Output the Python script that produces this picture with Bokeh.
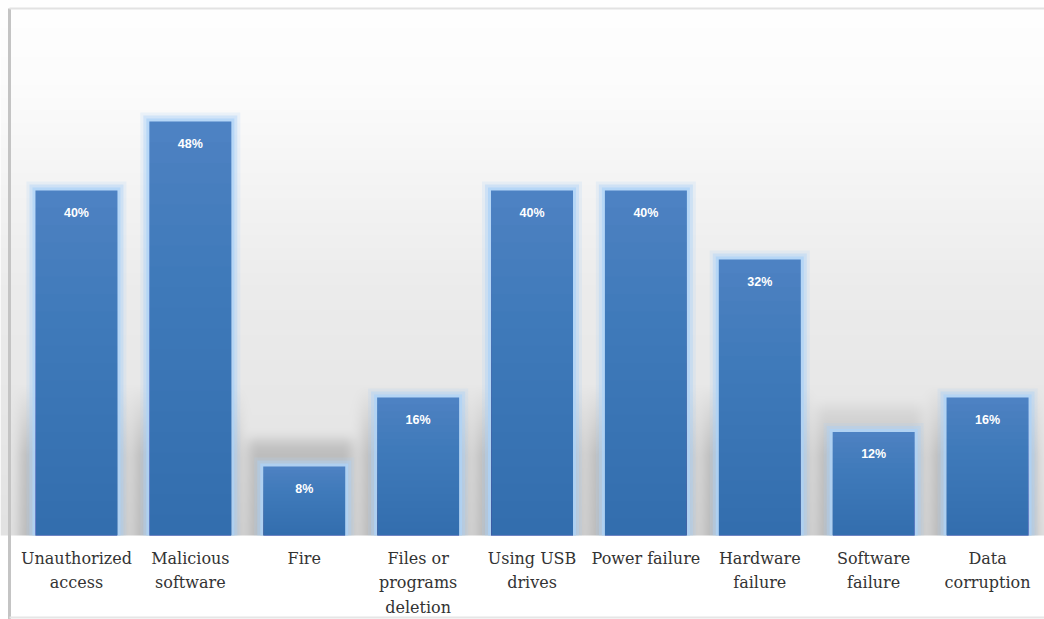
import numpy as np
from bokeh.plotting import figure
from bokeh.models import Range1d, ColumnDataSource
from bokeh.core.properties import value
from bokeh.embed import file_html
from bokeh.resources import INLINE

# ---- data ----
categories = ["Unauthorized\naccess", "Malicious\nsoftware", "Fire",
              "Files or\nprograms\ndeletion", "Using USB\ndrives", "Power failure",
              "Hardware\nfailure", "Software\nfailure", "Data\ncorruption"]
percent = [40, 48, 8, 16, 40, 40, 32, 12, 16]
value_labels = ["40%", "48%", "8%", "16%", "40%", "40%", "32%", "12%", "16%"]

W, H = 1044, 619
n = len(categories)
xleft = -0.667
xright = n - 0.5
xpx = W / (xright - xleft)          # px per category
ypx = 8.625                         # px per percent
y0_px = 535
ytop = y0_px / ypx
ybot = -(H - y0_px) / ypx

def X(px):
    return xleft + px / xpx

def Y(py):
    return ytop - py / ypx

p = figure(width=W, height=H, output_backend="svg", toolbar_location=None,
           x_range=Range1d(xleft, xright), y_range=Range1d(ybot, ytop),
           min_border=0, min_border_left=0, min_border_right=0,
           min_border_top=0, min_border_bottom=0)
p.axis.visible = False
p.grid.visible = False
p.outline_line_color = None
p.background_fill_color = "white"
p.border_fill_color = "white"

xs = np.arange(n)
vals = np.array(percent, dtype=float)
bw = 0.72

# ---- back wall with soft shadows (raster built from the data) ----
cols, rows = W, y0_px
hh = np.arange(rows) + 0.5            # px above floor
cc = np.arange(cols) + 0.5            # screen px
wall = np.interp(hh, [0, 60, 150, 250, 350, 450, 535],
                 [226, 229, 232, 236, 244, 252, 255])
mask = np.zeros((rows, cols))
for x, v in zip(xs, vals):
    cpx = (x - xleft) * xpx
    hw = bw * xpx / 2
    l, r = cpx - hw - 16, cpx + hw + 8
    top = v * ypx + 28
    mcol = (cc >= l) & (cc <= r)
    mrow = hh <= top
    mask[np.ix_(mrow, mcol)] = 1.0

def blur(a, rad, axis):
    k = 2 * rad + 1
    pad = [(0, 0), (0, 0)]
    pad[axis] = (rad + 1, rad)
    ap = np.pad(a, pad, mode="edge")
    cs = np.cumsum(ap, axis=axis)
    if axis == 0:
        return (cs[k:] - cs[:-k]) / k
    return (cs[:, k:] - cs[:, :-k]) / k

for _ in range(2):
    mask = blur(mask, 6, 0)
    mask = blur(mask, 6, 1)
fade = np.clip((150 - hh) / 70.0, 0, 1)
shade = wall[:, None] - 40 * mask * fade[:, None]
g = np.clip(shade, 0, 255).astype(np.uint32)
img = (255 << 24) | (g << 16) | (g << 8) | g
p.image_rgba(image=[img.astype(np.uint32)], x=xleft, y=0,
             dw=xright - xleft, dh=ytop)

# ---- bar glow ----
for grow, a in [(9, 0.2), (6, 0.4), (3, 0.75)]:
    p.vbar(x=xs, width=bw + 2 * grow / xpx, bottom=0, top=vals + grow / ypx,
           fill_color="#add3f7", fill_alpha=a, line_color=None)

# ---- bars: solid fill + cumulative darkening toward the base ----
p.vbar(x=xs, width=bw, bottom=0, top=vals, fill_color="#4f84c5", line_color=None)
nseg = 20
for s in range(1, nseg + 1):
    p.vbar(x=xs, width=bw, bottom=0, top=vals * s / nseg,
           fill_color="#1c3f78", fill_alpha=0.014, line_color=None)

# ---- value labels ----
src = ColumnDataSource(dict(x=xs, y=vals, t=value_labels))
p.text(x="x", y="y", text="t", source=src, y_offset=22,
       text_align="center", text_baseline="middle",
       text_font=value("Liberation Sans"), text_font_style="bold",
       text_font_size="12.5px", text_color="white")

# ---- category labels ----
src2 = ColumnDataSource(dict(x=xs, y=[Y(548)] * n, t=categories))
p.text(x="x", y="y", text="t", source=src2,
       text_align="center", text_baseline="top",
       text_font=value("DejaVu Serif"), text_font_size="16px",
       text_color="#333333", text_line_height=1.3)

# ---- frame lines ----
p.segment(x0=[X(9)], y0=[Y(8)], x1=[X(9)], y1=[Y(619)], line_color="#c4c4c4", line_width=3)
p.segment(x0=[X(9)], y0=[Y(8)], x1=[X(1044)], y1=[Y(8)], line_color="#e2e2e2", line_width=2)
p.segment(x0=[X(9)], y0=[Y(617)], x1=[X(1044)], y1=[Y(617)], line_color="#e6e6e6", line_width=2)

open("out.html", "w").write(file_html(p, INLINE))
